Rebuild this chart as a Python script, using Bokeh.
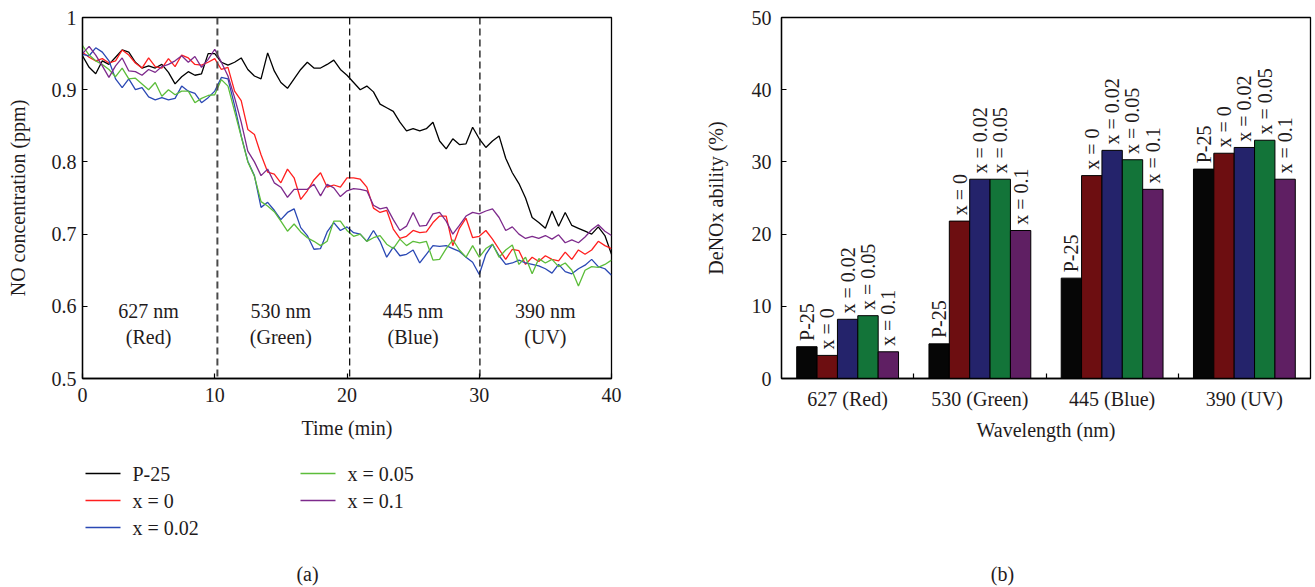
import math
from bokeh.plotting import figure
from bokeh.layouts import row, column
from bokeh.models import FixedTicker, Span, ColumnDataSource, Range1d
from bokeh.embed import file_html
from bokeh.resources import INLINE
from bokeh.core.properties import value

# ---------------- data: panel (a) ----------------
time_min = [0, 0.5, 1, 1.5, 2, 2.5, 3, 3.5, 4, 4.5,
            5, 5.5, 6, 6.5, 7, 7.5, 8, 8.5, 9, 9.5,
            10, 10.5, 11, 11.5, 12, 12.5, 13, 13.5, 14, 14.5,
            15, 15.5, 16, 16.5, 17, 17.5, 18, 18.5, 19, 19.5,
            20, 20.5, 21, 21.5, 22, 22.5, 23, 23.5, 24, 24.5,
            25, 25.5, 26, 26.5, 27, 27.5, 28, 28.5, 29, 29.5,
            30, 30.5, 31, 31.5, 32, 32.5, 33, 33.5, 34, 34.5,
            35, 35.5, 36, 36.5, 37, 37.5, 38, 38.5, 39, 39.5,
            40]

no_p25 = [0.947, 0.931, 0.922, 0.940, 0.935, 0.945, 0.955, 0.952, 0.938, 0.930,
          0.933, 0.930, 0.935, 0.924, 0.908, 0.918, 0.925, 0.920, 0.922, 0.950,
          0.950, 0.938, 0.934, 0.938, 0.944, 0.928, 0.919, 0.915, 0.951, 0.926,
          0.910, 0.902, 0.915, 0.928, 0.938, 0.930, 0.930, 0.935, 0.941, 0.928,
          0.920, 0.910, 0.900, 0.905, 0.897, 0.880, 0.875, 0.870, 0.855, 0.843,
          0.846, 0.843, 0.846, 0.855, 0.829, 0.818, 0.832, 0.824, 0.825, 0.848,
          0.832, 0.820, 0.829, 0.836, 0.805, 0.785, 0.770, 0.750, 0.723, 0.716,
          0.708, 0.732, 0.711, 0.730, 0.712, 0.708, 0.704, 0.700, 0.710, 0.698,
          0.672]

no_x0 = [0.952, 0.945, 0.940, 0.943, 0.937, 0.940, 0.955, 0.948, 0.937, 0.930,
         0.944, 0.932, 0.930, 0.943, 0.932, 0.948, 0.944, 0.935, 0.934, 0.938,
         0.943, 0.928, 0.931, 0.898, 0.885, 0.845, 0.838, 0.810, 0.786, 0.783,
         0.771, 0.790, 0.778, 0.748, 0.760, 0.775, 0.785, 0.765, 0.768, 0.765,
         0.778, 0.778, 0.776, 0.765, 0.736, 0.730, 0.733, 0.707, 0.694, 0.697,
         0.705, 0.702, 0.703, 0.716, 0.725, 0.725, 0.684, 0.708, 0.722, 0.695,
         0.697, 0.705, 0.693, 0.679, 0.665, 0.679, 0.677, 0.658, 0.668, 0.662,
         0.670, 0.665, 0.663, 0.675, 0.665, 0.678, 0.672, 0.678, 0.690, 0.684,
         0.680]

no_x002 = [0.949, 0.947, 0.958, 0.952, 0.940, 0.915, 0.903, 0.915, 0.900, 0.903,
           0.890, 0.886, 0.889, 0.886, 0.888, 0.905, 0.898, 0.895, 0.882, 0.889,
           0.898, 0.917, 0.915, 0.878, 0.836, 0.801, 0.781, 0.737, 0.744, 0.733,
           0.720, 0.730, 0.735, 0.709, 0.698, 0.679, 0.680, 0.703, 0.716, 0.705,
           0.710, 0.702, 0.700, 0.690, 0.705, 0.690, 0.668, 0.682, 0.670, 0.672,
           0.678, 0.660, 0.672, 0.684, 0.683, 0.684, 0.680, 0.676, 0.668, 0.661,
           0.644, 0.672, 0.686, 0.670, 0.658, 0.660, 0.664, 0.660, 0.658, 0.656,
           0.652, 0.646, 0.658, 0.648, 0.645, 0.652, 0.657, 0.665, 0.655, 0.652,
           0.643]

no_x005 = [0.961, 0.948, 0.940, 0.935, 0.928, 0.918, 0.930, 0.915, 0.916, 0.908,
           0.900, 0.910, 0.891, 0.900, 0.893, 0.898, 0.898, 0.882, 0.888, 0.892,
           0.893, 0.914, 0.905, 0.870, 0.835, 0.800, 0.780, 0.745, 0.739, 0.731,
           0.718, 0.704, 0.714, 0.703, 0.695, 0.690, 0.684, 0.690, 0.718, 0.718,
           0.705, 0.697, 0.700, 0.690, 0.695, 0.698, 0.686, 0.680, 0.693, 0.684,
           0.690, 0.688, 0.690, 0.664, 0.665, 0.680, 0.692, 0.678, 0.668, 0.684,
           0.668, 0.680, 0.686, 0.668, 0.678, 0.685, 0.658, 0.668, 0.645, 0.666,
           0.660, 0.665, 0.655, 0.660, 0.650, 0.628, 0.650, 0.655, 0.654, 0.658,
           0.664]

no_x01 = [0.950, 0.960, 0.948, 0.933, 0.917, 0.933, 0.944, 0.926, 0.925, 0.920,
          0.928, 0.924, 0.932, 0.935, 0.940, 0.947, 0.938, 0.946, 0.931, 0.942,
          0.956, 0.938, 0.919, 0.889, 0.855, 0.815, 0.800, 0.781, 0.790, 0.771,
          0.765, 0.751, 0.762, 0.762, 0.762, 0.769, 0.753, 0.769, 0.764, 0.752,
          0.760, 0.763, 0.762, 0.760, 0.740, 0.735, 0.737, 0.720, 0.705, 0.711,
          0.730, 0.711, 0.712, 0.728, 0.730, 0.718, 0.700, 0.712, 0.725, 0.730,
          0.728, 0.732, 0.735, 0.723, 0.705, 0.710, 0.700, 0.694, 0.697, 0.694,
          0.698, 0.693, 0.699, 0.688, 0.692, 0.688, 0.696, 0.706, 0.713, 0.704,
          0.698]

series_names = ["P-25", "x = 0", "x = 0.02", "x = 0.05", "x = 0.1"]
line_series = [no_p25, no_x0, no_x002, no_x005, no_x01]

switch_times = [10.2, 20.2, 30.05]
region_centres = [5, 15, 25, 35]
region_nm = ["627 nm", "530 nm", "445 nm", "390 nm"]
region_colour_names = ["(Red)", "(Green)", "(Blue)", "(UV)"]

x_ticks = [0, 10, 20, 30, 40]
x_tick_labels = ["0", "10", "20", "30", "40"]
y_ticks = [0.5, 0.6, 0.7, 0.8, 0.9, 1.0]
y_tick_labels = ["0.5", "0.6", "0.7", "0.8", "0.9", "1"]

# ---------------- data: panel (b) ----------------
wavelengths = ["627 (Red)", "530 (Green)", "445 (Blue)", "390 (UV)"]
denox_p25 = [4.4, 4.8, 13.9, 29.0]
denox_x0 = [3.2, 21.8, 28.1, 31.2]
denox_x002 = [8.2, 27.6, 31.6, 32.0]
denox_x005 = [8.7, 27.6, 30.3, 33.0]
denox_x01 = [3.7, 20.5, 26.2, 27.6]
bar_series = [denox_p25, denox_x0, denox_x002, denox_x005, denox_x01]
b_y_ticks = [0, 10, 20, 30, 40, 50]

# ---------------- styles ----------------
FONT = "Liberation Serif"
FS = "20px"
TXT = "#1f1b1c"
line_colours = ["#000000", "#ff1f1f", "#2a48b4", "#5cbd3a", "#7d2a8c"]
bar_colours = ["#060606", "#6d0e11", "#24236b", "#137439", "#5f1f63"]

PAGE_H = 587
TOP_H = 448               # height of the chart figures
BOT_H = PAGE_H - TOP_H    # strip below (legend, captions)
WA = 690                  # width of panel (a)
WB = 623                  # width of panel (b)
FRAME_W = 529
A_LEFT = 82
B_LEFT = 91


def style_axis(ax):
    ax.axis_line_color = "black"
    ax.axis_line_width = 1.3
    ax.major_tick_line_color = "black"
    ax.major_tick_line_width = 1.2
    ax.major_tick_in = 5
    ax.major_tick_out = 0
    ax.minor_tick_line_color = None
    ax.major_label_text_font = FONT
    ax.major_label_text_font_size = FS
    ax.major_label_text_color = TXT
    ax.axis_label_text_font = FONT
    ax.axis_label_text_font_size = FS
    ax.axis_label_text_font_style = "normal"
    ax.axis_label_text_color = TXT


def style_frame(p):
    p.background_fill_color = "white"
    p.border_fill_color = "white"
    p.outline_line_color = "black"
    p.outline_line_width = 1.3
    p.outline_line_alpha = 1.0
    p.xgrid.grid_line_color = None
    p.ygrid.grid_line_color = None


def strip(width, frame_left_page):
    # drawing strip under a chart; its frame is aligned (by the column layout)
    # with the chart frame above, so its x range is given in page pixels
    s = figure(width=width, height=BOT_H,
               x_range=Range1d(frame_left_page, frame_left_page + FRAME_W),
               y_range=Range1d(0, BOT_H), output_backend="svg",
               toolbar_location=None, title=None,
               x_axis_location=None, y_axis_location=None,
               min_border_left=0, min_border_right=0,
               min_border_top=0, min_border_bottom=0)
    s.xgrid.grid_line_color = None
    s.ygrid.grid_line_color = None
    s.outline_line_color = None
    s.background_fill_color = "white"
    s.border_fill_color = "white"
    return s


# ================= panel (a) =================
pa = figure(width=WA, height=TOP_H, x_range=(0, 40), y_range=(0.5, 1.0),
            output_backend="svg", toolbar_location=None, title=None,
            min_border_left=A_LEFT, min_border_right=WA - A_LEFT - FRAME_W,
            min_border_top=17, min_border_bottom=TOP_H - 17 - 361)
style_frame(pa)

xa = pa.xaxis[0]
ya = pa.yaxis[0]
style_axis(xa)
style_axis(ya)
xa.ticker = FixedTicker(ticks=x_ticks)
xa.major_label_overrides = dict(zip(x_ticks, x_tick_labels))
ya.ticker = FixedTicker(ticks=y_ticks)
ya.major_label_overrides = dict(zip(y_ticks, y_tick_labels))
xa.axis_label = "Time (min)"
ya.axis_label = "NO concentration (ppm)"
xa.major_label_standoff = 9
xa.axis_label_standoff = 12
ya.major_label_standoff = 6
ya.axis_label_standoff = 20

for i, t in enumerate(switch_times):
    pa.add_layout(Span(location=t, dimension="height",
                       line_color="#4a4a4a" if i == 0 else "#111111",
                       line_width=2.0 if i == 0 else 1.3,
                       line_dash="7 4"))

for name, ys, col in zip(series_names, line_series, line_colours):
    src = ColumnDataSource(dict(t=time_min, v=ys))
    pa.line("t", "v", source=src, line_color=col, line_width=1.3)

pa.text(x=region_centres, y=[0.594] * len(region_centres), text=region_nm,
        text_align="center", text_baseline="middle",
        text_font=value(FONT), text_font_size=FS, text_color=TXT)
pa.text(x=region_centres, y=[0.558] * len(region_centres), text=region_colour_names,
        text_align="center", text_baseline="middle",
        text_font=value(FONT), text_font_size=FS, text_color=TXT)

# ---- strip under (a): legend (two columns) + caption ----
sa = strip(WA, A_LEFT)
leg_col_x = [85, 85, 85, 300, 300]          # key start (page px)
leg_row_y = [473, 500, 527, 473, 500]       # row centre (page px)
KEY_W = 35
GAP = 12
ky = [PAGE_H - y for y in leg_row_y]
sa.segment(x0=leg_col_x, y0=ky, x1=[x + KEY_W for x in leg_col_x], y1=ky,
           line_color=line_colours, line_width=1.3)
sa.text(x=[x + KEY_W + GAP for x in leg_col_x], y=ky, text=series_names,
        text_align="left", text_baseline="middle",
        text_font=value(FONT), text_font_size=FS, text_color=TXT)
sa.text(x=[307], y=[PAGE_H - 573], text=["(a)"], text_align="center",
        text_baseline="middle", text_font=value(FONT),
        text_font_size=FS, text_color=TXT)

# ================= panel (b) =================
pb = figure(width=WB, height=TOP_H, x_range=(0, 4), y_range=(0, 50),
            output_backend="svg", toolbar_location=None, title=None,
            min_border_left=B_LEFT, min_border_right=WB - B_LEFT - FRAME_W,
            min_border_top=17, min_border_bottom=TOP_H - 17 - 361)
style_frame(pb)

xb = pb.xaxis[0]
yb = pb.yaxis[0]
style_axis(xb)
style_axis(yb)
yb.ticker = FixedTicker(ticks=b_y_ticks)
cat_centres = [g + 0.5 for g in range(len(wavelengths))]
cat_bounds = [g for g in range(1, len(wavelengths))]
xb.ticker = FixedTicker(ticks=cat_centres, minor_ticks=cat_bounds)
xb.major_label_overrides = dict(zip(cat_centres, wavelengths))
xb.major_tick_in = 0
xb.major_tick_out = 0
xb.minor_tick_line_color = "black"
xb.minor_tick_line_width = 1.2
xb.minor_tick_in = 5
xb.minor_tick_out = 0
xb.axis_label = "Wavelength (nm)"
yb.axis_label = "DeNOx ability (%)"
xb.major_label_standoff = 9
xb.axis_label_standoff = 6
yb.major_label_standoff = 10
yb.axis_label_standoff = 22

BW = 0.154
n_series = len(bar_series)
for i, (vals, col, name) in enumerate(zip(bar_series, bar_colours, series_names)):
    xs = [c + (i - (n_series - 1) / 2) * BW for c in cat_centres]
    src = ColumnDataSource(dict(x=xs, top=vals, ly=[v + 0.8 for v in vals],
                                lab=[name] * len(vals)))
    pb.vbar(x="x", top="top", bottom=0, width=BW, source=src,
            fill_color=col, line_color="black", line_width=1)
    pb.text(x="x", y="ly", text="lab", source=src, angle=math.pi / 2,
            text_align="left", text_baseline="middle",
            text_font=value(FONT), text_font_size=FS, text_color=TXT)

sb = strip(WB, WA + B_LEFT)
sb.text(x=[1002], y=[PAGE_H - 573], text=["(b)"], text_align="center",
        text_baseline="middle", text_font=value(FONT),
        text_font_size=FS, text_color=TXT)

layout = row(column(pa, sa), column(pb, sb))
open("out.html", "w").write(file_html(layout, INLINE))
